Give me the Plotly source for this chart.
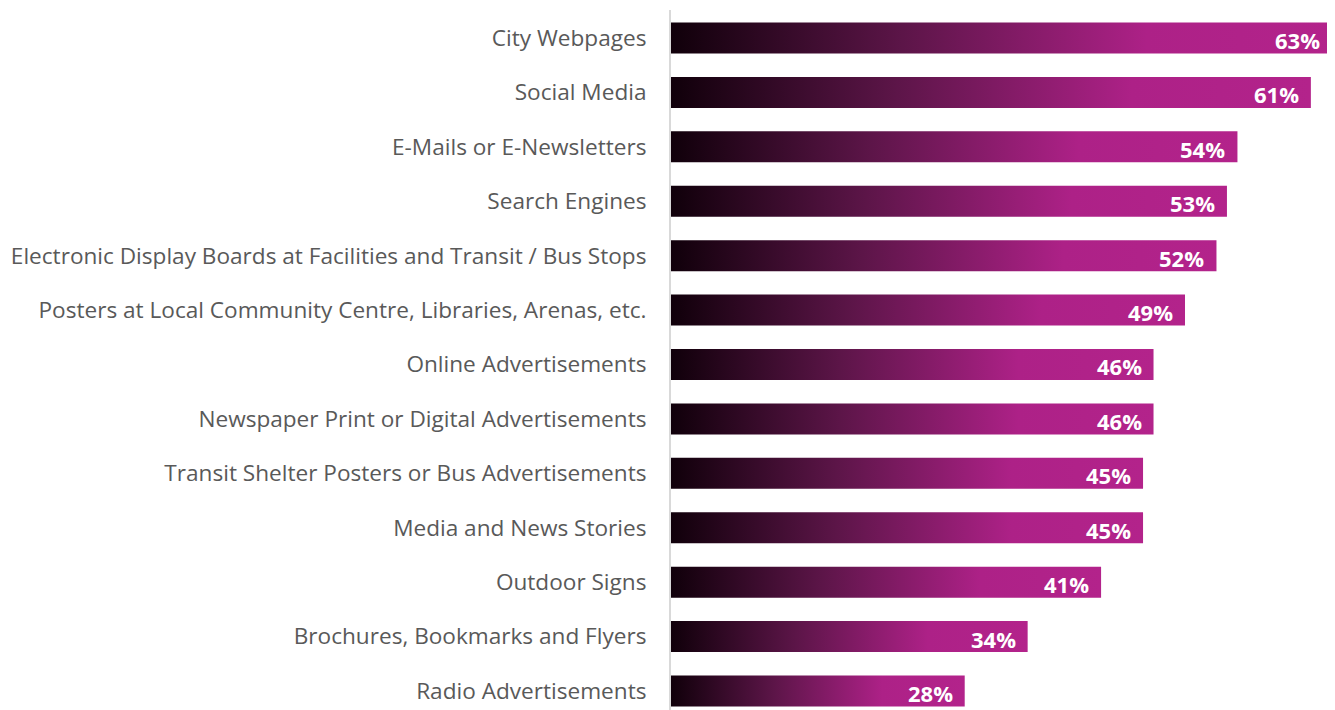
import plotly.graph_objects as go

categories = [
    "City Webpages",
    "Social Media",
    "E-Mails or E-Newsletters",
    "Search Engines",
    "Electronic Display Boards at Facilities and Transit / Bus Stops",
    "Posters at Local Community Centre, Libraries, Arenas, etc.",
    "Online Advertisements",
    "Newspaper Print or Digital Advertisements",
    "Transit Shelter Posters or Bus Advertisements",
    "Media and News Stories",
    "Outdoor Signs",
    "Brochures, Bookmarks and Flyers",
    "Radio Advertisements",
]
values = [63, 61, 54, 53, 52, 49, 46, 46, 45, 45, 41, 34, 28]

BAR_H = 0.57
fig = go.Figure()
for i, v in enumerate(values):
    y0, y1 = i - BAR_H / 2, i + BAR_H / 2
    fig.add_trace(go.Scatter(
        x=[0, v, v, 0, 0], y=[y0, y0, y1, y1, y0],
        mode="lines", fill="toself", line=dict(width=0),
        fillgradient=dict(type="horizontal", start=0, stop=v,
                          colorscale=[[0, "#10000a"], [0.35, "#5c1548"],
                                      [0.72, "#ad2187"], [1, "#b3238b"]]),
        hoverinfo="skip", showlegend=False,
    ))
    fig.add_annotation(x=v, y=i, text=f"<b>{v}%</b>", showarrow=False,
                       xanchor="right", xshift=-10, yshift=-2,
                       font=dict(family="Open Sans", size=22, color="white"))

fig.update_layout(
    width=1327, height=702,
    margin=dict(l=663, r=0, t=2, b=0),
    plot_bgcolor="white", paper_bgcolor="white",
    xaxis=dict(range=[0, 63.3], visible=False),
    yaxis=dict(range=[12.35, -0.515], tickmode="array",
               tickvals=list(range(len(categories))), ticktext=categories,
               showgrid=False, zeroline=False, showline=True,
               linecolor="#d9d9d9", linewidth=2, ticks="",
               ticklabelstandoff=18,
               tickfont=dict(family="Open Sans", size=22.6, color="#595959")),
)
fig.write_html("out.html")
